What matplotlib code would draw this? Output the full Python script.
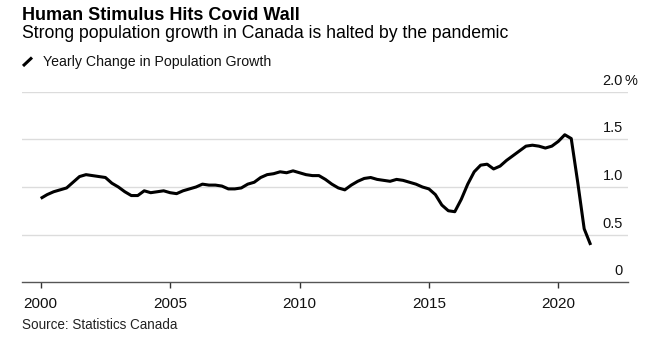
import matplotlib.pyplot as plt
import matplotlib.transforms as mtransforms
import numpy as np

plt.rcParams['font.family'] = ['Liberation Sans', 'DejaVu Sans']

# Quarterly data, 2000 Q1 .. 2021 Q2 (yearly % change in population)
start_year = 2000
growth = [
    0.88, 0.92, 0.95, 0.97, 0.99, 1.05, 1.11, 1.13, 1.12, 1.11,
    1.10, 1.04, 1.00, 0.95, 0.91, 0.91, 0.96, 0.94, 0.95, 0.96,
    0.94, 0.93, 0.96, 0.98, 1.00, 1.03, 1.02, 1.02, 1.01, 0.98,
    0.98, 0.99, 1.03, 1.05, 1.10, 1.13, 1.14, 1.16, 1.15, 1.17,
    1.15, 1.13, 1.12, 1.12, 1.08, 1.03, 0.99, 0.97, 1.02, 1.06,
    1.09, 1.10, 1.08, 1.07, 1.06, 1.08, 1.07, 1.05, 1.03, 1.00,
    0.98, 0.92, 0.81, 0.75, 0.74, 0.87, 1.03, 1.16, 1.23, 1.24,
    1.19, 1.22, 1.28, 1.33, 1.38, 1.43, 1.44, 1.43, 1.41, 1.43,
    1.48, 1.55, 1.51, 1.05, 0.56, 0.39,
]
x_ticks = [2000, 2005, 2010, 2015, 2020]
y_ticks = [0, 0.5, 1.0, 1.5, 2.0]
y_labels = ["0", "0.5", "1.0", "1.5", "2.0"]

title = "Human Stimulus Hits Covid Wall"
subtitle = "Strong population growth in Canada is halted by the pandemic"
legend_label = "Yearly Change in Population Growth"
source = "Source: Statistics Canada"

quarters = start_year + np.arange(len(growth)) / 4

W, H = 655, 343
fig = plt.figure(figsize=(W / 100, H / 100), dpi=100)
ax = fig.add_axes([22 / W, 1 - 282 / H, (628 - 22) / W, (282 - 92) / H])

ax.plot(quarters, growth, color="black", lw=2.2, solid_joinstyle="round",
        solid_capstyle="butt", zorder=3)

ax.set_xlim(1999.277, 2022.693)
ax.set_ylim(0, 2.0)

# gridlines
for v in y_ticks[1:]:
    ax.axhline(v, color="#dcdcdc", lw=1.0, zorder=1)

for s in ["top", "right", "left"]:
    ax.spines[s].set_visible(False)
ax.spines["bottom"].set_color("#555555")
ax.spines["bottom"].set_linewidth(1.0)

ax.set_xticks(x_ticks)
ax.set_xticklabels([str(t) for t in x_ticks])
ax.tick_params(axis="x", direction="out", length=4, width=1, color="#333333",
               labelsize=11, labelcolor="#111111", pad=7)
ax.set_yticks([])

# y labels above gridlines, right side
lbl_tr = mtransforms.offset_copy(ax.get_yaxis_transform(), fig=fig, x=0, y=4, units="dots")
for v, lab in zip(y_ticks, y_labels):
    ax.text(0.9917, v, lab, transform=lbl_tr, ha="right", va="bottom",
            fontsize=10.5, color="#111111")
ax.text(0.9934, 2.0, "%", transform=lbl_tr, ha="left", va="bottom",
        fontsize=10.5, color="#111111")

# header texts
fig.text(22 / W, 1 - 20 / H, title, fontsize=13.0, fontweight="bold",
         ha="left", va="baseline", color="black")
fig.text(22 / W, 1 - 38 / H, subtitle, fontsize=12.7, ha="left", va="baseline",
         color="black")
fig.add_artist(plt.Line2D([23 / W, 32 / W], [1 - 66 / H, 1 - 57.5 / H],
                          color="black", lw=2.2, solid_capstyle="butt"))
fig.text(43 / W, 1 - 66 / H, legend_label, fontsize=10.2, ha="left",
         va="baseline", color="#111111")
fig.text(22 / W, 1 - 329 / H, source, fontsize=9.75, ha="left", va="baseline",
         color="#222222")

fig.savefig("out.png", dpi=100)
